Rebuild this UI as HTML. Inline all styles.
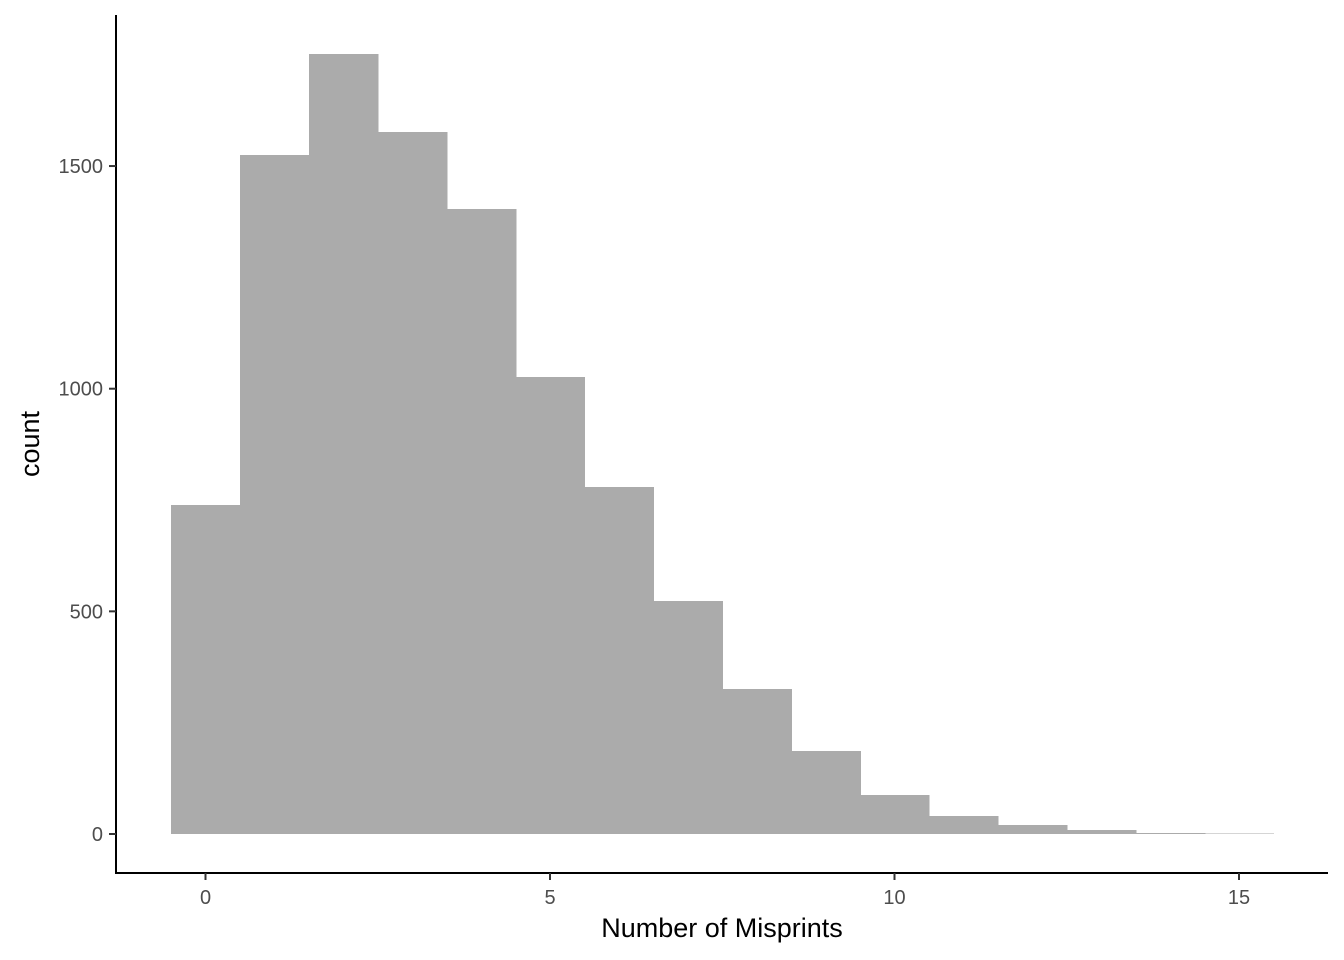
<!DOCTYPE html>
<html><head><meta charset="utf-8"><style>
body{margin:0;background:#fff;}
svg{display:block;font-family:"Liberation Sans",sans-serif;}
</style></head><body>
<svg id="chart" width="1344" height="960">
<g id="bars" shape-rendering="crispEdges"></g>
<line x1="116" y1="15" x2="116" y2="874" stroke="#000" stroke-width="2"/>
<line x1="115" y1="873" x2="1328" y2="873" stroke="#000" stroke-width="2"/>
<g id="xticks"></g>
<g id="yticks"></g>
<text x="722" y="937" font-size="27" text-anchor="middle" fill="#000">Number of Misprints</text>
<text transform="translate(39,444) rotate(-90)" font-size="27" text-anchor="middle" fill="#000">count</text>
</svg>
<script>
const bins=[0,1,2,3,4,5,6,7,8,9,10,11,12,13,14,15];
const counts=[739,1525,1752,1576,1403,1026,779,523,326,186,88,40,20,9,2,1];
const xTicks=[0,5,10,15];
const yTicks=[0,500,1000,1500];
const NS="http://www.w3.org/2000/svg";
const xs=v=>205.5+v*68.9;
const ys=v=>834-v*0.4453;
const bg=document.getElementById('bars');
bins.forEach((b,i)=>{
  const r=document.createElementNS(NS,'rect');
  r.setAttribute('x',xs(b-0.5));
  r.setAttribute('width',69.6);
  r.setAttribute('y',ys(counts[i]));
  r.setAttribute('height',ys(0)-ys(counts[i]));
  r.setAttribute('fill','#ababab');
  
  
  bg.appendChild(r);
});
const xg=document.getElementById('xticks');
xTicks.forEach(t=>{
  const l=document.createElementNS(NS,'line');
  l.setAttribute('x1',xs(t));l.setAttribute('x2',xs(t));
  l.setAttribute('y1',873);l.setAttribute('y2',880);
  l.setAttribute('stroke','#333');l.setAttribute('stroke-width',2);
  
  
  xg.appendChild(l);
  const tx=document.createElementNS(NS,'text');
  tx.setAttribute('x',xs(t));tx.setAttribute('y',904);
  tx.setAttribute('font-size','20');tx.setAttribute('fill','#4d4d4d');
  tx.setAttribute('text-anchor','middle');tx.textContent=t;
  
  
  xg.appendChild(tx);
});
const yg=document.getElementById('yticks');
yTicks.forEach(t=>{
  const l=document.createElementNS(NS,'line');
  l.setAttribute('x1',109);l.setAttribute('x2',116);
  l.setAttribute('y1',ys(t));l.setAttribute('y2',ys(t));
  l.setAttribute('stroke','#333');l.setAttribute('stroke-width',2);
  
  
  yg.appendChild(l);
  const tx=document.createElementNS(NS,'text');
  tx.setAttribute('x',103);tx.setAttribute('y',ys(t)+7);
  tx.setAttribute('font-size','20');tx.setAttribute('fill','#4d4d4d');
  tx.setAttribute('text-anchor','end');tx.textContent=t;
  
  
  yg.appendChild(tx);
});
</script>
</body></html>
